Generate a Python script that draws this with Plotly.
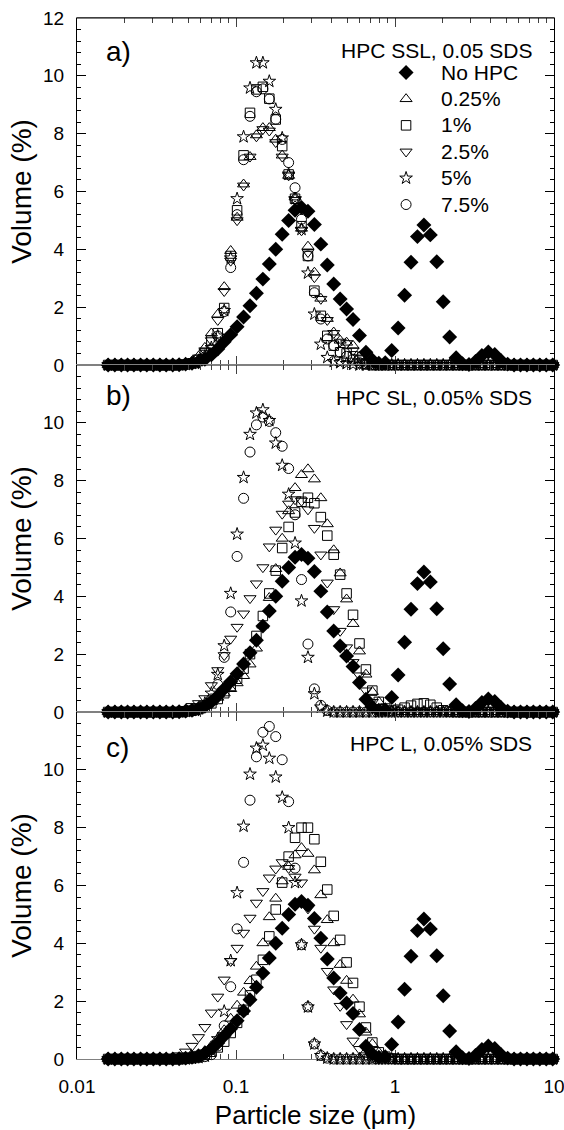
import plotly.graph_objects as go

# Particle size channels (µm) shared by every measurement
size_um = [
    0.0157, 0.0173, 0.0190, 0.0208, 0.0228, 0.0251, 0.0275, 0.0302, 0.0332, 0.0364,
    0.0400, 0.0439, 0.0482, 0.0529, 0.0581, 0.0637, 0.0700, 0.0768, 0.0843, 0.0926,
    0.1016, 0.1116, 0.1225, 0.1344, 0.1476, 0.1620, 0.1778, 0.1952, 0.2143, 0.2352,
    0.2582, 0.2835, 0.3112, 0.3416, 0.3750, 0.4117, 0.4519, 0.4961, 0.5446, 0.5978,
    0.6563, 0.7204, 0.7909, 0.8682, 0.9531, 1.046, 1.149, 1.261, 1.384, 1.520,
    1.668, 1.831, 2.010, 2.207, 2.423, 2.659, 2.919, 3.205, 3.518, 3.862,
    4.240, 4.654, 5.109, 5.609, 6.157, 6.759, 7.420, 8.145, 8.941, 9.816,
]

# Reference dispersion without HPC (same in all three panels)
no_hpc = [
    0, 0, 0, 0, 0, 0, 0, 0, 0, 0,
    0, 0.01, 0.03, 0.06, 0.11, 0.20, 0.35, 0.55, 0.80, 1.05,
    1.32, 1.66, 2.05, 2.48, 2.97, 3.49, 4.00, 4.52, 5.00, 5.35,
    5.45, 5.32, 4.86, 4.18, 3.46, 2.80, 2.28, 1.94, 1.57, 1.02,
    0.44, 0.17, 0.06, 0.08, 0.50, 1.28, 2.41, 3.55, 4.44, 4.84,
    4.50, 3.57, 2.19, 0.97, 0.25, 0.04, 0.02, 0.12, 0.33, 0.45,
    0.36, 0.15, 0.03, 0, 0, 0, 0, 0, 0, 0,
]

# a) HPC SSL, 0.05 SDS
ssl_025 = [
    0, 0, 0, 0, 0, 0, 0, 0, 0, 0,
    0, 0, 0.04, 0.12, 0.30, 0.60, 1.10, 1.75, 2.70, 3.95,
    5.10, 6.25, 7.20, 7.95, 8.20, 8.20, 7.80, 7.25, 6.55, 5.80,
    4.72, 4.10, 3.20, 2.30, 1.60, 1.13, 0.85, 0.78, 0.67, 0.30,
    0.10, 0.03, 0, 0, 0, 0, 0, 0, 0, 0,
    0, 0, 0, 0, 0, 0, 0, 0, 0, 0,
    0, 0, 0, 0, 0, 0, 0, 0, 0, 0,
]
ssl_1 = [
    0, 0, 0, 0, 0, 0, 0, 0, 0, 0,
    0, 0, 0.02, 0.06, 0.18, 0.40, 0.85, 1.10, 1.97, 3.77,
    5.35, 7.25, 8.72, 9.53, 9.62, 9.21, 8.49, 7.57, 6.59, 5.75,
    4.80, 3.77, 2.57, 1.70, 1.01, 0.67, 0.44, 0.40, 0.30, 0.15,
    0.05, 0, 0, 0, 0, 0, 0, 0, 0, 0,
    0, 0, 0, 0, 0, 0, 0, 0, 0, 0,
    0, 0, 0, 0, 0, 0, 0, 0, 0, 0,
]
ssl_25 = [
    0, 0, 0, 0, 0, 0, 0, 0, 0, 0,
    0, 0, 0.03, 0.10, 0.25, 0.50, 0.85, 1.55, 2.55, 3.60,
    5.00, 6.20, 7.20, 7.90, 8.15, 8.10, 7.70, 7.20, 6.55, 5.70,
    4.65, 3.90, 3.03, 2.28, 1.55, 1.10, 0.80, 0.75, 0.50, 0.25,
    0.08, 0.02, 0, 0, 0, 0, 0, 0, 0, 0,
    0, 0, 0, 0, 0, 0, 0, 0, 0, 0,
    0, 0, 0, 0, 0, 0, 0, 0, 0, 0,
]
ssl_5 = [
    0, 0, 0, 0, 0, 0, 0, 0, 0, 0,
    0, 0, 0.02, 0.05, 0.15, 0.30, 0.60, 1.00, 1.88, 3.70,
    5.75, 7.89, 9.58, 10.45, 10.45, 9.81, 8.84, 7.85, 6.60, 5.75,
    4.69, 3.18, 1.76, 0.72, 0.26, 0.12, 0.08, 0.05, 0.02, 0,
    0, 0, 0, 0, 0, 0, 0, 0, 0, 0,
    0, 0, 0, 0, 0, 0, 0, 0, 0, 0,
    0, 0, 0, 0, 0, 0, 0, 0, 0, 0,
]
ssl_75 = [
    0, 0, 0, 0, 0, 0, 0, 0, 0, 0,
    0, 0, 0.02, 0.05, 0.12, 0.28, 0.55, 1.00, 1.85, 3.37,
    5.20, 7.10, 8.60, 9.45, 9.55, 9.20, 8.50, 7.80, 7.00, 6.13,
    5.04, 3.77, 2.50, 1.59, 0.90, 0.67, 0.44, 0.30, 0.20, 0.08,
    0.02, 0, 0, 0, 0, 0, 0, 0, 0, 0,
    0, 0, 0, 0, 0, 0, 0, 0, 0, 0,
    0, 0, 0, 0, 0, 0, 0, 0, 0, 0,
]

# b) HPC SL, 0.05% SDS
sl_025 = [
    0, 0, 0, 0, 0, 0, 0, 0, 0, 0,
    0, 0, 0.02, 0.06, 0.12, 0.22, 0.35, 0.50, 0.65, 0.80,
    1.00, 1.25, 1.65, 2.20, 3.00, 3.95, 4.95, 6.00, 6.95, 7.75,
    8.20, 8.40, 8.05, 7.40, 6.50, 5.60, 4.80, 3.90, 3.05, 2.10,
    1.30, 0.70, 0.35, 0.12, 0.05, 0, 0, 0, 0, 0,
    0, 0, 0, 0, 0, 0, 0, 0, 0, 0,
    0, 0, 0, 0, 0, 0, 0, 0, 0, 0,
]
sl_1 = [
    0, 0, 0, 0, 0, 0, 0, 0, 0, 0,
    0, 0, 0.02, 0.05, 0.10, 0.18, 0.30, 0.45, 0.65, 0.90,
    1.15, 1.50, 2.00, 2.63, 3.32, 4.10, 4.89, 5.67, 6.40, 6.90,
    7.27, 7.41, 7.22, 6.74, 6.10, 5.44, 4.75, 4.10, 3.36, 2.37,
    1.47, 0.74, 0.35, 0.12, 0.05, 0.08, 0.15, 0.22, 0.28, 0.30,
    0.25, 0.15, 0.06, 0.02, 0, 0, 0, 0, 0, 0,
    0, 0, 0, 0, 0, 0, 0, 0, 0, 0,
]
sl_25 = [
    0, 0, 0, 0, 0, 0, 0, 0, 0, 0,
    0.02, 0.05, 0.10, 0.20, 0.30, 0.47, 0.92, 1.44, 1.96, 2.53,
    2.94, 3.40, 3.93, 4.44, 5.00, 5.72, 6.30, 6.85, 7.20, 7.35,
    7.30, 7.00, 6.36, 5.44, 4.47, 3.55, 2.80, 2.23, 1.72, 1.26,
    0.74, 0.34, 0.11, 0.03, 0, 0, 0, 0, 0, 0,
    0, 0, 0, 0, 0, 0, 0, 0, 0, 0,
    0, 0, 0, 0, 0, 0, 0, 0, 0, 0,
]
sl_5 = [
    0, 0, 0, 0, 0, 0, 0, 0, 0, 0,
    0, 0, 0.02, 0.05, 0.12, 0.30, 0.65, 1.30, 2.29, 4.10,
    6.15, 8.11, 9.60, 10.34, 10.45, 10.08, 9.30, 8.53, 7.53, 5.84,
    3.84, 1.89, 0.63, 0.17, 0.03, 0, 0, 0, 0, 0,
    0, 0, 0, 0, 0, 0, 0, 0, 0, 0,
    0, 0, 0, 0, 0, 0, 0, 0, 0, 0,
    0, 0, 0, 0, 0, 0, 0, 0, 0, 0,
]
sl_75 = [
    0, 0, 0, 0, 0, 0, 0, 0, 0, 0,
    0, 0, 0, 0.03, 0.08, 0.20, 0.45, 0.95, 1.89, 3.46,
    5.38, 7.39, 8.99, 9.93, 10.20, 10.05, 9.66, 9.19, 8.42, 6.82,
    4.58, 2.35, 0.80, 0.23, 0.05, 0, 0, 0, 0, 0,
    0, 0, 0, 0, 0, 0, 0, 0, 0, 0,
    0, 0, 0, 0, 0, 0, 0, 0, 0, 0,
    0, 0, 0, 0, 0, 0, 0, 0, 0, 0,
]

# c) HPC L, 0.05% SDS
l_025 = [
    0, 0, 0, 0, 0, 0, 0, 0, 0, 0,
    0, 0, 0.03, 0.07, 0.15, 0.28, 0.45, 0.70, 1.00, 1.40,
    1.85, 2.30, 2.70, 3.20, 4.01, 4.91, 5.55, 6.15, 6.65, 7.05,
    7.30, 7.10, 6.53, 5.67, 4.81, 4.01, 3.26, 2.71, 2.06, 1.55,
    0.92, 0.52, 0.23, 0.08, 0.02, 0, 0, 0, 0, 0,
    0, 0, 0, 0, 0, 0, 0, 0, 0, 0,
    0, 0, 0, 0, 0, 0, 0, 0, 0, 0,
]
l_1 = [
    0, 0, 0, 0, 0, 0, 0, 0, 0, 0,
    0, 0, 0.02, 0.05, 0.10, 0.15, 0.25, 0.40, 0.60, 0.90,
    1.25, 1.70, 2.20, 2.74, 3.43, 4.24, 5.17, 6.10, 7.00, 7.65,
    8.00, 8.00, 7.60, 6.82, 5.86, 4.95, 4.12, 3.34, 2.63, 1.81,
    1.09, 0.57, 0.23, 0.08, 0.02, 0, 0, 0, 0, 0,
    0, 0, 0, 0, 0, 0, 0, 0, 0, 0,
    0, 0, 0, 0, 0, 0, 0, 0, 0, 0,
]
l_25 = [
    0, 0, 0, 0, 0, 0, 0, 0, 0, 0,
    0.05, 0.12, 0.25, 0.45, 0.75, 1.10, 1.60, 2.15, 2.74, 3.38,
    3.84, 4.36, 4.88, 5.40, 5.80, 6.27, 6.58, 6.80, 6.60, 6.30,
    6.10, 5.20, 4.50, 3.84, 3.04, 2.40, 1.83, 1.20, 0.63, 0.34,
    0.12, 0.04, 0, 0, 0, 0, 0, 0, 0, 0,
    0, 0, 0, 0, 0, 0, 0, 0, 0, 0,
    0, 0, 0, 0, 0, 0, 0, 0, 0, 0,
]
l_5 = [
    0, 0, 0, 0, 0, 0, 0, 0, 0, 0,
    0, 0, 0, 0.02, 0.05, 0.10, 0.30, 0.70, 1.65, 3.40,
    5.75, 8.05, 9.85, 10.75, 10.85, 10.40, 9.75, 9.05, 8.00, 6.10,
    3.95, 1.80, 0.52, 0.12, 0.03, 0, 0, 0, 0, 0,
    0, 0, 0, 0, 0, 0, 0, 0, 0, 0,
    0, 0, 0, 0, 0, 0, 0, 0, 0, 0,
    0, 0, 0, 0, 0, 0, 0, 0, 0, 0,
]
l_75 = [
    0, 0, 0, 0, 0, 0, 0, 0, 0, 0,
    0, 0, 0, 0.02, 0.04, 0.08, 0.15, 0.45, 1.15, 2.50,
    4.50, 6.80, 8.95, 10.45, 11.30, 11.50, 11.15, 10.35, 8.90, 6.60,
    3.95, 1.80, 0.52, 0.12, 0.03, 0, 0, 0, 0, 0,
    0, 0, 0, 0, 0, 0, 0, 0, 0, 0,
    0, 0, 0, 0, 0, 0, 0, 0, 0, 0,
    0, 0, 0, 0, 0, 0, 0, 0, 0, 0,
]

hpc_labels = ["0.25%", "1%", "2.5%", "5%", "7.5%"]
panel_titles = ["HPC SSL, 0.05 SDS", "HPC SL, 0.05% SDS", "HPC L, 0.05% SDS"]
panel_tags = ["a)", "b)", "c)"]
x_tick_vals = [0.01, 0.1, 1, 10]
x_tick_text = ["0.01", "0.1", "1", "10"]

FONT = "Liberation Sans, Arial, sans-serif"
symbols = ["triangle-up-open", "square-open", "triangle-down-open", "star-open", "circle-open"]
sym_sizes = [10.5, 9.5, 10.5, 9.5, 10]


def legend_name(text):
    return '<span style="font-size:21px">' + text + "</span>"


panels = [
    ("x", "y", [ssl_025, ssl_1, ssl_25, ssl_5, ssl_75]),
    ("x2", "y2", [sl_025, sl_1, sl_25, sl_5, sl_75]),
    ("x3", "y3", [l_025, l_1, l_25, l_5, l_75]),
]

fig = go.Figure()
for p, (xa, ya, series) in enumerate(panels):
    for j, (lab, sym, sz, vals) in enumerate(zip(hpc_labels, symbols, sym_sizes, series)):
        fig.add_trace(go.Scatter(
            x=size_um, y=vals, mode="markers", xaxis=xa, yaxis=ya,
            name=legend_name(lab), showlegend=(p == 0), legendrank=j + 2,
            cliponaxis=False,
            marker=dict(symbol=sym, size=sz, color="black",
                        line=dict(color="black", width=1)),
        ))
    fig.add_trace(go.Scatter(
        x=size_um, y=no_hpc, mode="markers", xaxis=xa, yaxis=ya,
        name=legend_name("No HPC"), showlegend=(p == 0), legendrank=1,
        cliponaxis=False,
        marker=dict(symbol="diamond", size=11.5, color="black",
                    line=dict(color="black", width=0)),
    ))

minor_x = [m * d for d in (0.01, 0.1, 1) for m in range(2, 10)]


def x_axis(anchor, show_labels):
    return dict(
        type="log", range=[-2, 1], anchor=anchor, domain=[0, 1], automargin=False,
        showline=True, linecolor="#808080", linewidth=1, mirror="ticks",
        ticks="inside", ticklen=9, tickwidth=1, tickcolor="#404040",
        tickvals=x_tick_vals, ticktext=x_tick_text, ticklabelstandoff=10,
        ticklabeloverflow="allow",
        showticklabels=show_labels, showgrid=False, zeroline=False,
        layer="below traces",
        tickfont=dict(family=FONT, size=19, color="black"),
        minor=dict(ticks="inside", ticklen=5, tickwidth=1, tickcolor="#404040",
                   tickvals=minor_x, showgrid=False),
    )


def y_axis(anchor, domain, top_label):
    vals = [0, 2, 4, 6, 8, 10, 12] if top_label else [0, 2, 4, 6, 8, 10]
    return dict(
        range=[0, 12], anchor=anchor, domain=domain, automargin=False,
        showline=True, linecolor="black", linewidth=1, mirror="ticks",
        ticks="inside", ticklen=9, tickwidth=1, tickcolor="black",
        tickvals=vals, ticktext=[str(v) for v in vals],
        showgrid=False, zeroline=False, layer="below traces",
        ticklabelstandoff=8,
        tickfont=dict(family=FONT, size=19, color="black"),
        minor=dict(ticks="inside", ticklen=4, tickwidth=1, tickcolor="black",
                   dtick=0.4, tick0=0, showgrid=False),
        title=dict(text="Volume (%)", font=dict(family=FONT, size=28, color="black"),
                   standoff=3),
    )


xa3 = x_axis("y3", True)
xa3["title"] = dict(text="Particle size (μm)", font=dict(family=FONT, size=26, color="black"),
                    standoff=10)

annotations = []
tag_y = [0.9678, 0.6369, 0.2997]
title_y = [0.9685, 0.6350, 0.3026]
for tag, ttl, ty, hy in zip(panel_tags, panel_titles, tag_y, title_y):
    annotations.append(dict(xref="paper", yref="paper", x=0.0566, y=ty, text=tag,
                            showarrow=False, xanchor="left", yanchor="middle",
                            font=dict(family=FONT, size=28, color="black")))
    annotations.append(dict(xref="paper", yref="paper", x=0.958, y=hy, text=ttl,
                            showarrow=False, xanchor="right", yanchor="middle",
                            font=dict(family=FONT, size=21, color="black")))

fig.update_layout(
    template="none",
    width=564, height=1130, autosize=False,
    margin=dict(l=77, r=10, t=18, b=71),
    paper_bgcolor="white", plot_bgcolor="white",
    font=dict(family=FONT, color="black"),
    xaxis=x_axis("y", False),
    xaxis2=x_axis("y2", False),
    xaxis3=xa3,
    yaxis=y_axis("x", [2 / 3, 1], True),
    yaxis2=y_axis("x2", [1 / 3, 2 / 3], False),
    yaxis3=y_axis("x3", [0, 1 / 3], False),
    showlegend=True,
    legend=dict(x=0.6165, y=0.9651, xanchor="left", yanchor="top",
                bgcolor="rgba(0,0,0,0)", borderwidth=0, itemwidth=60,
                font=dict(family=FONT, size=18, color="black"),
                tracegroupgap=0),
    annotations=annotations,
    shapes=[dict(type="line", xref="paper", yref="paper", x0=0, x1=1, y0=1, y1=1,
                 line=dict(color="black", width=1))],
)

fig.write_html("out.html")
